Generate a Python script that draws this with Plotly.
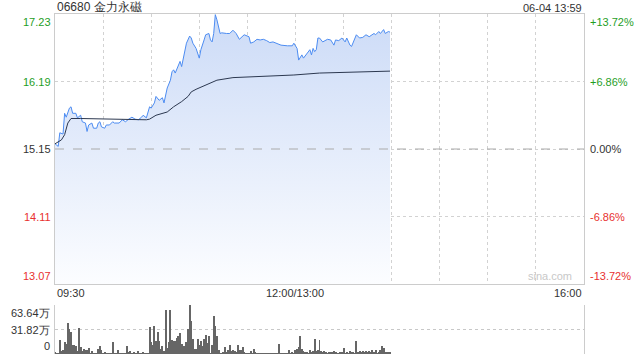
import plotly.graph_objects as go

# ---------------- data ----------------
title_text = "06680 金力永磁"
stamp_text = "06-04 13:59"
prev_close = 15.15
price_ticks = [17.23, 16.19, 15.15, 14.11, 13.07]
pct_ticks = ["+13.72%", "+6.86%", "0.00%", "-6.86%", "-13.72%"]
time_tick_labels = ["09:30", "12:00/13:00", "16:00"]
time_tick_times = ["09:30", "12:00", "16:00"]
vol_ticks = [63.64, 31.82, 0]
vol_tick_text = ["63.64万", "31.82万", "0"]

price_times = [
    "09:30", "09:32", "09:33", "09:35", "09:36", "09:37", "09:39", "09:40", "09:41", "09:43",
    "09:44", "09:46", "09:47", "09:49", "09:50", "09:51", "09:53", "09:54", "09:56", "09:57",
    "09:58", "09:59", "10:01", "10:02", "10:04", "10:06", "10:07", "10:10", "10:12", "10:14",
    "10:16", "10:18", "10:20", "10:22", "10:24", "10:25", "10:27", "10:28", "10:29", "10:30",
    "10:32", "10:33", "10:35", "10:37", "10:38", "10:40", "10:42", "10:43", "10:44", "10:45",
    "10:46", "10:48", "10:49", "10:51", "10:52", "10:54", "10:55", "10:56", "10:58", "11:00",
    "11:01", "11:03", "11:04", "11:06", "11:07", "11:08", "11:09", "11:10", "11:11", "11:13",
    "11:14", "11:17", "11:19", "11:21", "11:23", "11:25", "11:26", "11:28", "11:31", "11:32",
    "11:34", "11:36", "11:38", "11:40", "11:42", "11:44", "11:46", "11:48", "11:51", "11:55",
    "11:58", "11:59", "13:01", "13:02", "13:04", "13:05", "13:07", "13:09", "13:10", "13:11",
    "13:12", "13:13", "13:14", "13:15", "13:17", "13:20", "13:22", "13:24", "13:25", "13:27",
    "13:29", "13:31", "13:32", "13:34", "13:35", "13:36", "13:38", "13:40", "13:42", "13:44",
    "13:46", "13:49", "13:50", "13:52", "13:53", "13:55", "13:56", "13:58", "13:59",
]
price_values = [
    15.23, 15.19, 15.40, 15.38, 15.70, 15.64, 15.78, 15.80, 15.70, 15.70,
    15.63, 15.67, 15.57, 15.55, 15.42, 15.52, 15.55, 15.47, 15.47, 15.55,
    15.57, 15.49, 15.47, 15.52, 15.52, 15.57, 15.55, 15.55, 15.60, 15.57,
    15.61, 15.64, 15.61, 15.60, 15.64, 15.67, 15.63, 15.72, 15.80, 15.78,
    15.86, 15.96, 15.90, 15.94, 15.86, 16.09, 16.21, 16.34, 16.37, 16.32,
    16.39, 16.50, 16.42, 16.65, 16.78, 16.89, 16.86, 16.78, 16.70, 16.55,
    16.68, 16.83, 16.91, 16.93, 16.83, 16.80, 16.93, 17.22, 17.14, 16.93,
    16.94, 16.93, 16.93, 16.98, 16.93, 16.84, 16.86, 16.91, 16.88, 16.78,
    16.80, 16.84, 16.83, 16.84, 16.82, 16.79, 16.80, 16.78, 16.75, 16.74,
    16.74, 16.78, 16.70, 16.52, 16.60, 16.55, 16.62, 16.68, 16.60, 16.70,
    16.65, 16.68, 16.86, 16.86, 16.80, 16.84, 16.83, 16.75, 16.83, 16.82,
    16.86, 16.80, 16.86, 16.75, 16.73, 16.80, 16.91, 16.86, 16.87, 16.91,
    16.88, 16.93, 16.91, 16.96, 16.93, 16.99, 16.93, 16.96, 16.95,
]

avg_times = ["09:30", "09:34", "09:36", "09:38", "09:40", "09:46", "10:27", "10:29", "10:33",
             "10:40", "10:44", "10:49", "10:53", "10:55", "10:58", "11:05", "11:11", "11:21",
             "11:32", "11:59", "13:15", "13:59"]
avg_values = [15.23, 15.29, 15.37, 15.55, 15.62, 15.62, 15.60, 15.61, 15.67,
              15.72, 15.80, 15.88, 15.96, 16.03, 16.07, 16.14, 16.21, 16.25,
              16.26, 16.29, 16.32, 16.35]

# volume per trading minute from 09:30 (unit: 万)
volume_values = [
    2.6, 0.8, 1.3, 18.5, 3.4, 4.7, 15.0, 13.3, 40.9, 32.3,
    28.0, 12.0, 12.0, 9.9, 3.4, 33.5, 9.0, 3.4, 6.5, 4.7,
    5.6, 7.7, 1.3, 3.4, 0.5, 1.3, 1.3, 6.5, 10.8, 4.7,
    1.3, 2.2, 0.5, 1.3, 1.3, 0.8, 15.5, 1.3, 0.5, 5.6,
    1.3, 0.8, 0.5, 1.3, 1.3, 10.8, 2.2, 3.4, 1.3, 2.2,
    0.8, 1.3, 3.4, 1.3, 0.5, 2.2, 0.3, 0.2, 0.5, 35.7,
    15.0, 12.0, 36.6, 16.3, 29.2, 16.3, 6.5, 9.9, 3.4, 57.2,
    7.7, 15.0, 57.2, 17.6, 16.3, 17.2, 20.6, 22.8, 27.1, 13.3,
    9.9, 9.9, 15.0, 32.3, 63.6, 43.4, 19.4, 6.5, 6.5, 19.4,
    12.0, 16.3, 9.9, 19.4, 24.9, 14.2, 22.8, 1.3, 12.0, 49.5,
    36.6, 22.8, 4.7, 0.5, 0.8, 2.2, 9.0, 2.2, 5.6, 12.0,
    3.4, 5.6, 3.4, 1.5, 12.0, 4.7, 4.7, 9.0, 2.2, 1.3,
    1.3, 0.5, 3.4, 1.3, 6.5, 2.2, 0.5, 0.8, 0.5, 0.5,
    0.5, 0.5, 0.8, 0.3, 0.3, 0.5, 0.3, 0.2, 0.3, 0.5,
    13.3, 1.3, 1.3, 0.5, 1.3, 0.8, 5.6, 1.3, 2.2, 1.3,
    4.7, 6.5, 8.6, 22.8, 6.5, 3.4, 2.2, 2.2, 1.3, 4.7,
    2.2, 3.4, 19.4, 4.3, 5.2, 18.2, 4.3, 3.0, 4.3, 3.0,
    1.3, 1.7, 3.0, 1.7, 4.3, 3.0, 1.3, 1.3, 3.0, 1.7,
    7.4, 1.3, 3.0, 1.3, 4.3, 3.0, 3.0, 1.3, 16.9, 3.0,
    4.3, 3.0, 4.3, 3.0, 4.3, 3.0, 4.3, 3.0, 5.2, 3.0,
    5.2, 1.3, 3.0, 5.2, 10.8, 7.4, 3.0, 1.7, 2.0, 1.7,
]


def trade_min(t):
    h, m = map(int, t.split(":"))
    mins = h * 60 + m
    if mins <= 12 * 60:
        return mins - (9 * 60 + 30)
    return mins - 13 * 60 + 150


price_x = [trade_min(t) for t in price_times]
avg_x = [trade_min(t) for t in avg_times]
vol_x = list(range(len(volume_values)))
session_len = trade_min("16:00")

GREEN = "#1f9e1f"
RED = "#e8312f"
DARK = "#333333"
GRID = "#d2d2d2"
FONT = "Liberation Sans, Arial, sans-serif"

fig = go.Figure()
fig.add_trace(go.Scatter(
    x=price_x, y=price_values, mode="lines",
    line=dict(color="#4c8cf2", width=1),
    fill="tozeroy",
    fillgradient=dict(type="vertical", start=price_ticks[-1], stop=max(price_values),
                      colorscale=[[0, "rgb(252,253,255)"], [1, "rgb(204,219,247)"]]),
    xaxis="x", yaxis="y", hoverinfo="skip",
))
fig.add_trace(go.Scatter(
    x=avg_x, y=avg_values, mode="lines",
    line=dict(color="#2c3850", width=1),
    xaxis="x", yaxis="y", hoverinfo="skip",
))
fig.add_trace(go.Bar(
    x=vol_x, y=volume_values, width=0.62,
    marker=dict(color="#666666", line=dict(width=0)),
    xaxis="x2", yaxis="y2", hoverinfo="skip",
))

grid_x = list(range(30, session_len, 30))
fig.update_layout(
    width=640, height=360,
    margin=dict(l=55, r=56, t=14, b=6),
    paper_bgcolor="white", plot_bgcolor="white",
    showlegend=False, bargap=0,
    font=dict(family=FONT, size=11, color=DARK),
    xaxis=dict(domain=[0, 1], range=[0, session_len], tickvals=grid_x, showticklabels=False,
               showgrid=True, gridcolor=GRID, griddash="dot", gridwidth=1,
               showline=True, mirror=True, linecolor="#cccccc", linewidth=1, zeroline=False,
               ticks=""),
    yaxis=dict(domain=[70 / 340, 1], range=[price_ticks[-1], price_ticks[0]],
               tickvals=price_ticks[1:-1], showticklabels=False,
               showgrid=True, gridcolor=GRID, griddash="dot", gridwidth=1,
               showline=True, mirror=True, linecolor="#cccccc", linewidth=1, zeroline=False),
    xaxis2=dict(domain=[0, 1], range=[0, session_len], anchor="y2", tickvals=grid_x,
                showticklabels=False, showgrid=False, showline=False, zeroline=False),
    yaxis2=dict(domain=[0, 49 / 340], range=[0, vol_ticks[0]], anchor="x2",
                tickvals=vol_ticks, showticklabels=False,
                showgrid=True, gridcolor="#c8c8c8", griddash="dot", gridwidth=1,
                showline=True, mirror=True, linecolor="#cccccc", linewidth=1, zeroline=False),
)

fig.add_shape(type="line", xref="x domain", yref="y", x0=0, x1=1, y0=prev_close, y1=prev_close,
              line=dict(color="#aaaaaa", width=1, dash="dash"))

ann = []
left_colors = [GREEN, GREEN, DARK, RED, RED]
anchors = ["top", "middle", "middle", "middle", "bottom"]
for v, c, a, p in zip(price_ticks, left_colors, anchors, pct_ticks):
    ann.append(dict(xref="paper", yref="y", x=0, y=v, text=f"{v:.2f}", xanchor="right",
                    yanchor=a, xshift=-2, showarrow=False, font=dict(color=c, size=11)))
    ann.append(dict(xref="paper", yref="y", x=1, y=v, text=p, xanchor="left",
                    yanchor=a, xshift=4, showarrow=False, font=dict(color=c, size=11)))

vol_anchors = ["top", "middle", "bottom"]
for v, t, a in zip(vol_ticks, vol_tick_text, vol_anchors):
    ann.append(dict(xref="paper", yref="y2", x=0, y=v, text=t, xanchor="right", yanchor=a,
                    xshift=-3, showarrow=False, font=dict(color=DARK, size=11)))

time_anchor = ["left", "center", "right"]
for t, lab, a in zip(time_tick_times, time_tick_labels, time_anchor):
    ann.append(dict(xref="x", yref="paper", x=trade_min(t), y=61 / 340, text=lab, xanchor=a,
                    yanchor="middle", showarrow=False, font=dict(color=DARK, size=11)))

ann.append(dict(xref="paper", yref="paper", x=0, y=1, text=title_text, xanchor="left",
                yanchor="bottom", showarrow=False, yshift=-2, font=dict(color=DARK, size=12)))
ann.append(dict(xref="paper", yref="paper", x=1, y=1, text=stamp_text, xanchor="right",
                yanchor="bottom", showarrow=False, yshift=-2, font=dict(color=DARK, size=11)))
ann.append(dict(xref="paper", yref="y", x=1, y=price_ticks[-1], text="sina.com", xanchor="right",
                yanchor="bottom", xshift=-10, showarrow=False, font=dict(color="#c8c8c8", size=11)))

fig.update_layout(annotations=ann)
fig.write_html("out.html")
